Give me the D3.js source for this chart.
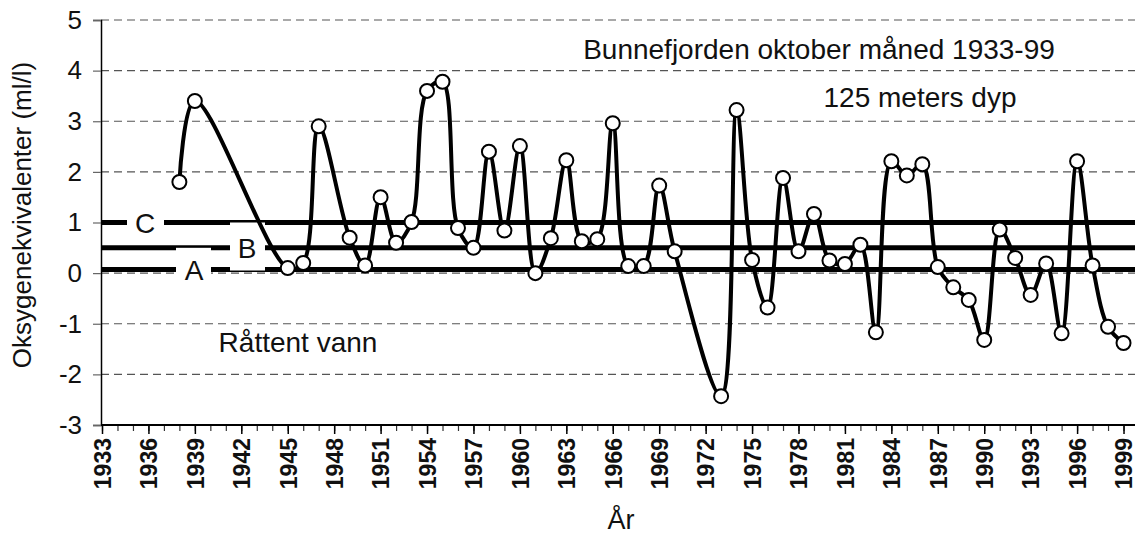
<!DOCTYPE html>
<html>
<head>
<meta charset="utf-8">
<script src="https://cdn.jsdelivr.net/npm/d3@7"></script>
<style>
  body { margin: 0; background: #fff; }
  svg { display: block; font-family: "Liberation Sans", Arial, sans-serif; }
  .grid line { stroke: #555; stroke-width: 1.2; stroke-dasharray: 8 5; }
  .axis-label { font-size: 27px; fill: #111; }
  .note { font-size: 28px; fill: #111; }
</style>
</head>
<body>
<div id="chart"></div>
<script>
// Years with a measurement (gaps 1940-44, 1948, 1971-72).
const years = [1938, 1939, 1945, 1946, 1947, 1949, 1950, 1951, 1952, 1953,
    1954, 1955, 1956, 1957, 1958, 1959, 1960, 1961, 1962, 1963,
    1964, 1965, 1966, 1967, 1968, 1969, 1970, 1973, 1974, 1975,
    1976, 1977, 1978, 1979, 1980, 1981, 1982, 1983, 1984, 1985,
    1986, 1987, 1988, 1989, 1990, 1991, 1992, 1993, 1994, 1995,
    1996, 1997, 1998, 1999];

// Oxygen equivalents (ml/l) at 125 m, October.
const oxygen = [1.80, 3.40, 0.10, 0.20, 2.90, 0.70, 0.15, 1.50, 0.60, 1.01,
    3.60, 3.78, 0.89, 0.50, 2.40, 0.84, 2.51, 0.00, 0.69, 2.23,
    0.63, 0.67, 2.96, 0.14, 0.14, 1.73, 0.43, -2.43, 3.22, 0.26,
    -0.68, 1.88, 0.43, 1.17, 0.25, 0.18, 0.56, -1.17, 2.21, 1.93,
    2.15, 0.12, -0.28, -0.53, -1.32, 0.86, 0.30, -0.43, 0.19, -1.19,
    2.21, 0.15, -1.06, -1.38];

// Condition class limits.
const classNames = ["A", "B", "C"];
const classLimits = [0.07, 0.5, 1.0];

// Axis ticks.
const yTicks = [-3, -2, -1, 0, 1, 2, 3, 4, 5];
const xLabelYears = d3.range(1933, 2000, 3);
const xMinorYears = d3.range(1933, 2001, 1);

const width = 1135;
const height = 535;
const margin = { top: 20, left: 101, bottom: 425 };

const svg = d3.select("#chart")
    .append("svg")
    .attr("width", width)
    .attr("height", height);

const x = d3.scaleLinear()
    .domain([1933, 2000])
    .range([102, 1139]);

const y = d3.scaleLinear()
    .domain([-3, 5])
    .range([margin.bottom, margin.top]);

// Dashed horizontal gridlines.
svg.append("g")
    .attr("class", "grid")
    .selectAll("line")
    .data(yTicks.filter(d => d > -3))
    .join("line")
    .attr("x1", margin.left)
    .attr("x2", width)
    .attr("y1", d => y(d))
    .attr("y2", d => y(d));

// Thick class limit lines.
svg.append("g")
    .selectAll("line")
    .data(classLimits)
    .join("line")
    .attr("x1", margin.left)
    .attr("x2", width)
    .attr("y1", d => y(d))
    .attr("y2", d => y(d))
    .attr("stroke", "#000")
    .attr("stroke-width", 5);

// White boxes behind the class letters, then the letters.
const labelBoxes = [
    { x: 176, y: y(classLimits[1]), w: 35, h: 40, cx: 194 },
    { x: 230, y: y(classLimits[2]), w: 35, h: 48, cx: 247 },
    { x: 127, y: y(classLimits[2]) - 16, w: 37, h: 34, cx: 145 }
];
svg.append("g")
    .selectAll("rect")
    .data(labelBoxes)
    .join("rect")
    .attr("x", d => d.x)
    .attr("y", d => d.y)
    .attr("width", d => d.w)
    .attr("height", d => d.h)
    .attr("fill", "#fff");

svg.append("g")
    .selectAll("text")
    .data(classNames)
    .join("text")
    .attr("class", "note")
    .attr("x", (d, i) => labelBoxes[i].cx)
    .attr("y", (d, i) => y(classLimits[i]) + 10)
    .attr("text-anchor", "middle")
    .text(d => d);

// Y axis (plain hyphen for negatives, as in the original).
const yAxis = svg.append("g")
    .attr("transform", `translate(${margin.left}, 0)`)
    .call(d3.axisLeft(y).tickValues(yTicks).tickSize(8).tickPadding(11).tickFormat(d => String(d)));
yAxis.select(".domain").attr("stroke", "#000").attr("stroke-width", 1.5);
yAxis.selectAll(".tick line").attr("stroke", "#666").attr("stroke-width", 1.2);
yAxis.selectAll("text")
    .style("font-size", "26px")
    .style("font-family", "'Liberation Sans', Arial, sans-serif")
    .attr("fill", "#111");

// X axis: minor ticks every year, labelled ticks every third year.
const xMinor = svg.append("g")
    .attr("transform", `translate(0, ${margin.bottom})`)
    .call(d3.axisBottom(x).tickValues(xMinorYears).tickSize(6).tickFormat(""));
xMinor.select(".domain").remove();
xMinor.selectAll(".tick line").attr("stroke", "#333").attr("stroke-width", 1.2);

const xAxis = svg.append("g")
    .attr("transform", `translate(0, ${margin.bottom})`)
    .call(d3.axisBottom(x).tickValues(xLabelYears).tickSize(9).tickFormat(d3.format("d")));
xAxis.select(".domain")
    .attr("d", `M${margin.left},0H${width}`)
    .attr("stroke", "#000")
    .attr("stroke-width", 2);
xAxis.selectAll(".tick line").attr("stroke", "#000").attr("stroke-width", 1.5);
xAxis.selectAll("text")
    .attr("transform", "rotate(-90)")
    .attr("x", -13)
    .attr("y", 0)
    .attr("dy", "0.36em")
    .style("text-anchor", "end")
    .style("font-size", "23px")
    .style("font-weight", "bold")
    .style("font-family", "'Liberation Sans', Arial, sans-serif")
    .attr("fill", "#111");

// Smoothed data line with open circle markers.
const points = years.map((yr, i) => [yr, oxygen[i]]);
const line = d3.line()
    .x(d => x(d[0]))
    .y(d => y(d[1]))
    .curve(d3.curveCatmullRom.alpha(0.5));

svg.append("path")
    .datum(points)
    .attr("d", line)
    .attr("fill", "none")
    .attr("stroke", "#000")
    .attr("stroke-width", 4);

svg.append("g")
    .selectAll("circle")
    .data(points)
    .join("circle")
    .attr("cx", d => x(d[0]))
    .attr("cy", d => y(d[1]))
    .attr("r", 7)
    .attr("fill", "#fff")
    .attr("stroke", "#000")
    .attr("stroke-width", 2);

// Notes inside the plot.
svg.append("text")
    .attr("class", "note")
    .attr("x", 819)
    .attr("y", 59)
    .attr("text-anchor", "middle")
    .text("Bunnefjorden oktober måned 1933-99");

svg.append("text")
    .attr("class", "note")
    .attr("x", 920)
    .attr("y", 107)
    .attr("text-anchor", "middle")
    .text("125 meters dyp");

svg.append("text")
    .attr("class", "note")
    .attr("x", 298)
    .attr("y", 352)
    .attr("text-anchor", "middle")
    .text("Råttent vann");

// Axis titles.
svg.append("text")
    .attr("class", "axis-label")
    .style("font-size", "26px")
    .attr("x", -215)
    .attr("y", 31)
    .attr("text-anchor", "middle")
    .attr("transform", "rotate(-90)")
    .text("Oksygenekvivalenter (ml/l)");

svg.append("text")
    .attr("class", "axis-label")
    .attr("x", 621)
    .attr("y", 529)
    .attr("text-anchor", "middle")
    .text("År");
</script>
</body>
</html>
